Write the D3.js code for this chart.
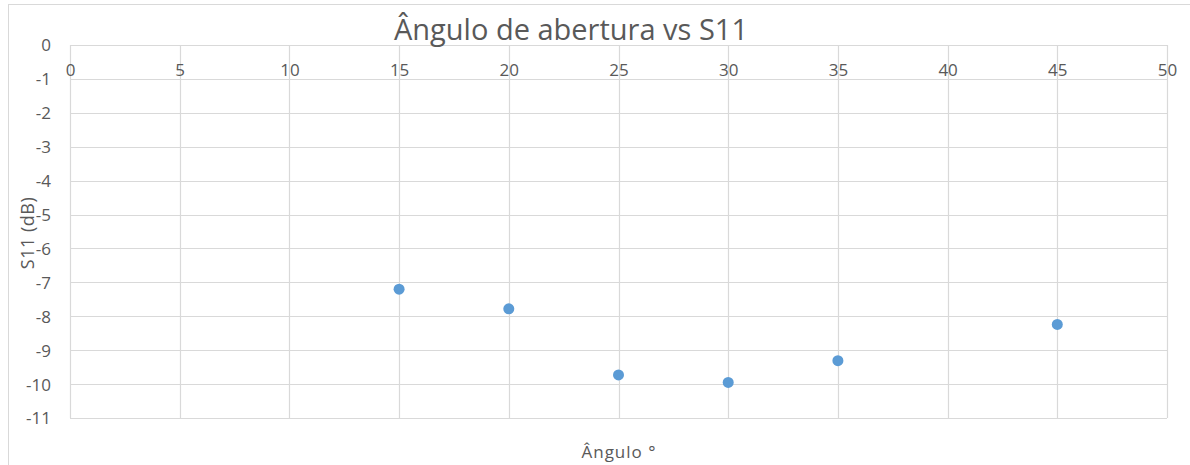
<!DOCTYPE html>
<html>
<head>
<meta charset="utf-8">
<script src="https://cdn.jsdelivr.net/npm/d3@7"></script>
<style>
  html, body { margin: 0; padding: 0; background: #ffffff; }
  svg text { font-family: "Open Sans", "Liberation Sans", sans-serif; fill: #595959; }
</style>
</head>
<body>
<svg id="chart" width="1190" height="465"></svg>
<script>
// Opening angle (degrees) and measured S11 (dB)
const angles = [15, 20, 25, 30, 35, 45];
const s11 = [-7.2, -7.78, -9.73, -9.95, -9.31, -8.24];
const xTicks = [0, 5, 10, 15, 20, 25, 30, 35, 40, 45, 50];
const yTicks = [0, -1, -2, -3, -4, -5, -6, -7, -8, -9, -10, -11];

const chartTitle = "Ângulo de abertura vs S11";
const xTitle = "Ângulo °";
const yTitle = "S11 (dB)";

const svg = d3.select("#chart");
const plot = { left: 70, right: 1167, top: 45, bottom: 418 };

const x = d3.scaleLinear().domain([0, 50]).range([plot.left, plot.right]);
const y = d3.scaleLinear().domain([0, -11]).range([plot.top, plot.bottom]);

// plain hyphen-minus for negative labels
const fmt = d => String(d);

// chart area frame
svg.append("rect")
  .attr("x", 8.5).attr("y", 4.5)
  .attr("width", 1200).attr("height", 500)
  .attr("fill", "#ffffff")
  .attr("stroke", "#d9d9d9").attr("stroke-width", 1);

// gridlines
const grid = svg.append("g").attr("stroke", "#d9d9d9").attr("stroke-width", 1.2);
grid.selectAll("line.h").data(yTicks).join("line")
  .attr("class", "h")
  .attr("x1", plot.left).attr("x2", plot.right)
  .attr("y1", d => Math.round(y(d)) + 0.5).attr("y2", d => Math.round(y(d)) + 0.5);
grid.selectAll("line.v").data(xTicks).join("line")
  .attr("class", "v")
  .attr("y1", plot.top).attr("y2", plot.bottom)
  .attr("x1", d => Math.round(x(d)) + 0.5).attr("x2", d => Math.round(x(d)) + 0.5);

// y tick labels
const yAxis = d3.axisLeft(y).tickValues(yTicks).tickSize(0).tickPadding(0).tickFormat(fmt);
const gy = svg.append("g").attr("transform", "translate(51,0)").call(yAxis);
gy.select(".domain").remove();
gy.selectAll("text")
  .attr("font-size", 17)
  .attr("font-family", null)
  .attr("fill", null)
  .attr("dy", "0.35em");

// x tick labels, set just under the zero line
const xAxis = d3.axisBottom(x).tickValues(xTicks).tickSize(0).tickPadding(0).tickFormat(fmt);
const gx = svg.append("g").attr("transform", "translate(0,64)").call(xAxis);
gx.select(".domain").remove();
gx.selectAll("text")
  .attr("font-size", 17)
  .attr("font-family", null)
  .attr("fill", null)
  .attr("dy", "0.71em");

// data points
svg.append("g").selectAll("circle")
  .data(angles.map((a, i) => ({ a, v: s11[i] })))
  .join("circle")
  .attr("cx", d => x(d.a))
  .attr("cy", d => y(d.v))
  .attr("r", 5.5)
  .attr("fill", "#5b9bd5");

// titles
svg.append("text")
  .attr("x", 571).attr("y", 40)
  .attr("text-anchor", "middle")
  .attr("font-size", 29)
  .text(chartTitle);

svg.append("text")
  .attr("x", 619).attr("y", 458)
  .attr("text-anchor", "middle")
  .attr("font-size", 17)
  .attr("letter-spacing", 1)
  .text(xTitle);

svg.append("text")
  .attr("transform", "translate(34,233) rotate(-90)")
  .attr("text-anchor", "middle")
  .attr("font-size", 18)
  .attr("letter-spacing", 0.5)
  .text(yTitle);
</script>
</body>
</html>
